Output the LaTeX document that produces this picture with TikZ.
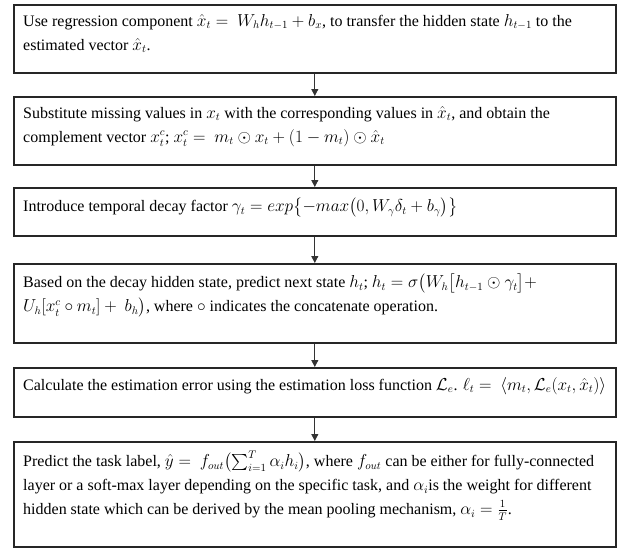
\documentclass[tikz,border=0pt]{standalone}
\usepackage{amsmath,amssymb}
\usepackage{fontspec}
\setmainfont{Liberation Serif}
\usetikzlibrary{arrows.meta}
\begin{document}
\begin{tikzpicture}[x=1pt,y=1pt,
  flowbox/.style={draw=black!85, line width=1.6pt, minimum width=602pt, anchor=north west, inner sep=0pt},
  flowtext/.style={anchor=north west, inner sep=0pt, text width=620pt, align=flush left, font=\fontsize{16}{24}\selectfont},
  flowarrow/.style={draw=black!80, line width=0.8pt, -{Triangle[length=7pt,width=7pt]}}]
\useasboundingbox (0,0) rectangle (619,-550);
\node[flowbox, minimum height=68pt] (b1) at (13,-4) {};
\node[flowbox, minimum height=68pt] (b2) at (13,-96) {};
\node[flowbox, minimum height=48pt] (b3) at (13,-187) {};
\node[flowbox, minimum height=79pt] (b4) at (13,-263) {};
\node[flowbox, minimum height=49pt] (b5) at (13,-367) {};
\node[flowbox, minimum height=105pt] (b6) at (13,-441) {};
\node[flowtext] (t1) at ([shift={(10,-10)}]b1.north west) {Use regression component $\hat{x}_t =\ W_h h_{t-1} + b_x$, to transfer the hidden state $h_{t-1}$ to the\\ estimated vector $\hat{x}_t$.};
\node[flowtext] (t2) at ([shift={(10,-10)}]b2.north west) {Substitute missing values in $x_t$ with the corresponding values in $\hat{x}_t$, and obtain the\\ complement vector $x_t^c$; $x_t^c =\ m_t \odot x_t + (1-m_t) \odot \hat{x}_t$};
\node[flowtext] (t3) at ([shift={(10,-10)}]b3.north west) {Introduce temporal decay factor $\gamma_t = exp\bigl\{-max\bigl(0, W_\gamma \delta_t + b_\gamma\bigr)\bigr\}$};
\node[flowtext] (t4) at ([shift={(10,-10)}]b4.north west) {Based on the decay hidden state, predict next state $h_t$; $h_t = \sigma\bigl(W_h\bigl[h_{t-1} \odot \gamma_t\bigr] +$\\ $U_h[x_t^c \circ m_t] +\ b_h\bigr)$, where $\circ$ indicates the concatenate operation.};
\node[flowtext] (t5) at ([shift={(10,-10)}]b5.north west) {Calculate the estimation error using the estimation loss function $\mathcal{L}_e$. $\ell_t =\ \langle m_t, \mathcal{L}_e(x_t, \hat{x}_t)\rangle$};
\node[flowtext] (t6) at ([shift={(10,-10)}]b6.north west) {Predict the task label, $\hat{y} =\ f_{out}\bigl(\sum_{i=1}^{T} \alpha_i h_i\bigr)$, where $f_{out}$ can be either for fully-connected\\ layer or a soft-max layer depending on the specific task, and $\alpha_i$is the weight for different\\ hidden state which can be derived by the mean pooling mechanism, $\alpha_i = \frac{1}{T}$.};
\draw[flowarrow] (b1.south) -- (b2.north);
\draw[flowarrow] (b2.south) -- (b3.north);
\draw[flowarrow] (b3.south) -- (b4.north);
\draw[flowarrow] (b4.south) -- (b5.north);
\draw[flowarrow] (b5.south) -- (b6.north);
\end{tikzpicture}
\end{document}
